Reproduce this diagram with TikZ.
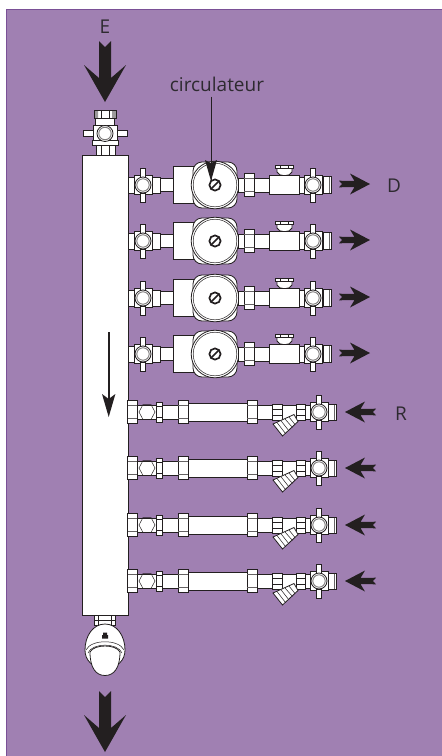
\documentclass[tikz,border=0pt]{standalone}
\usepackage{fontspec}
\setmainfont{Open Sans}
\definecolor{bgp}{HTML}{A080B2}
\definecolor{edgep}{HTML}{7A5096}
\definecolor{ink}{HTML}{231F20}
\definecolor{txt}{HTML}{2E2A30}
\tikzset{
  part/.style={draw=ink,fill=white,line width=0.8pt},
  thin part/.style={draw=ink,line width=0.5pt},
  shade part/.style={draw=ink!70,line width=1.3pt},
  solid arrow/.style={fill=ink,draw=none},
  label text/.style={text=txt,font=\fontsize{19}{22}\selectfont,inner sep=0pt},
  % a ball valve with a vertical lever, centred on its ball
  valve ball/.pic={
    \draw[part] (-2.3,-17) rectangle (2.3,17);
    \draw[part] (-9,-9.5) rectangle (9,9.5);
    \draw[part] (-2.3,-17) rectangle (2.3,-8);
    \draw[part] (-2.3,8) rectangle (2.3,17);
    \draw[draw=ink,fill=white,line width=0.8pt] (0,0) circle (8);
    \draw[draw=ink!60,fill=white,line width=0.9pt] (0,0) circle (6.2);
  },
  % a union nut: three stacked bands
  union nut/.pic={
    \draw[part] (-5,-11.5) rectangle (5,11.5);
    \draw[shade part] (-5,-6.5) -- (5,-6.5) (-5,6.5) -- (5,6.5);
  },
  % a flow arrow running to the right, tip at the origin
  arrow out/.pic={
    \fill[solid arrow] (0,0) -- (-20,-10.5) -- (-15.5,-3) -- (-31,-3.3) -- (-28,0) -- (-31,3.3) -- (-15.5,3) -- (-20,10.5) -- cycle;
  },
  % one pump branch, y measured from the branch axis, x absolute
  supply row/.pic={
    \draw[part] (128,-8) rectangle (135,8);
    \draw[part] (152,-8) rectangle (160,8);
    \draw[part] (160,-6.5) rectangle (173,6.5);
    \pic at (143,0) {valve ball};
    % pump
    \draw[part] (173,-19) rectangle (194,18);
    \draw[part,rounded corners=9pt] (193,-23) rectangle (237,23);
    \draw[part] (215,0) circle (23.8);
    \draw[thin part] (215,0) circle (21.8);
    \draw[draw=ink,line width=1.7pt,fill=white] (215,0) circle (5.6);
    \draw[draw=ink,line width=1.5pt] (211,4) -- (219,-4);
    % right of the pump
    \draw[part] (238,-7) rectangle (244,7);
    \draw[part] (244,-11.5) rectangle (254,11.5);
    \draw[shade part] (244,-6.5) -- (254,-6.5) (244,6.5) -- (254,6.5);
    \draw[part] (254,-7) rectangle (269,7);
    \draw[part] (277,-16.5) -- (277,-13) .. controls (279,-8) and (290,-8) .. (292,-13) -- (292,-16.5);
    \draw[part] (275,-20) rectangle (293,-16.5);
    \draw[thin part] (280,-20) -- (280,-16.5) (288,-20) -- (288,-16.5);
    \draw[part] (269,-10) rectangle (299,9);
    \draw[part] (299,-8) rectangle (304,8);
    \draw[part] (323,-8.5) rectangle (331,8.5);
    \draw[shade part] (329.5,-8) -- (329.5,8);
    \pic at (313,0) {valve ball};
    \pic at (370,-1) {arrow out};
  },
  % one return branch
  return row/.pic={
    \pic at (132.5,0) {union nut};
    \draw[part] (137,-7) rectangle (178,7);
    \draw[thin part] (139,0) -- (143,-7.5) -- (151,-7.5) -- (155,0) -- (151,7.5) -- (143,7.5) -- cycle;
    \draw[part] (156.5,-10) rectangle (162.5,10);
    \draw[thin part] (156.5,-5.5) -- (162.5,-5.5) (156.5,5.5) -- (162.5,5.5);
    \pic at (183,0) {union nut};
    \draw[part] (188,-9) rectangle (247,9);
    \pic at (252,0) {union nut};
    \draw[part] (257,-7) rectangle (310,7);
    \draw[part] (272,-8) rectangle (282,8);
    \draw[thin part] (272,-3) -- (282,-3) (272,3) -- (282,3);
    \draw[part] (296,-8) rectangle (305,8);
    \draw[thin part] (296,-3) -- (305,-3) (296,3) -- (305,3);
    % strainer
    \draw[part] (294,2.5) -- (273,12) -- (282.5,24) -- (298,9.5) -- cycle;
    \draw[thin part] (277,10.5) -- (285.5,21.5) (281,8.7) -- (289,19) (285,7) -- (292.5,15.5) (289,5) -- (295,12.5);
    \draw[part] (328,-8) rectangle (336,8);
    \draw[shade part] (334.5,-7.5) -- (334.5,7.5);
    \pic at (319,0) {valve ball};
    \pic[xscale=-1] at (345,0) {arrow out};
  },
  big arrow/.pic={
    \fill[solid arrow] (0,0) -- (-21,-37) -- (-6,-24) -- (-6,-61) -- (0,-55) -- (6,-61) -- (6,-24) -- (21,-37) -- cycle;
  }
}
\begin{document}
\begin{tikzpicture}[x=1pt,y=-1pt]
\useasboundingbox (0,0) rectangle (442,756);
\fill[white] (0,0) rectangle (442,756);
\fill[bgp] (6.5,9.5) rectangle (442,756);
\draw[edgep,line width=1.2pt] (6.5,756) -- (6.5,9.5) -- (442,9.5);

% inlet
\node[label text] (inletlabel) at (105,27) {E};
\pic at (105,102) {big arrow};
\draw[part,draw=ink!70,fill=white] (94,110) rectangle (116,118);
\fill[ink!45] (94,110) rectangle (98,118) (112,110) rectangle (116,118);
\draw[thin part] (101,110) -- (101,118) (109,110) -- (109,118) (94,110) rectangle (116,118);
\draw[part] (95.5,118) rectangle (114.5,126);
\draw[part] (96,143) rectangle (115,155);
\draw[thin part] (101,143) -- (101,155) (109,143) -- (109,155);
\draw[part] (83,130.5) rectangle (127,136.5);
\draw[part] (93,125) rectangle (117,141);
\draw[part] (92,140) rectangle (118,145);
\draw[part] (105,133.5) circle (8);
\draw[draw=ink!60,fill=white,line width=0.9pt] (105,133.5) circle (6.2);

% header
\node[part,minimum width=46pt,minimum height=460pt,inner sep=0pt,anchor=north west] (header) at (82,155) {};

% branches
\foreach \rowy in {185,241,298,354} {\pic at (0,\rowy) {supply row};}
\foreach \rowy in {412,468,525,581} {\pic at (0,\rowy) {return row};}

% labels
\node[label text] (supplylabel) at (394,186) {D};
\node[label text] (returnlabel) at (401,414) {R};
\node[label text] (pumplabel) at (217,84) {circulateur};
\coordinate (pumptip) at (211,181);
\coordinate (pumpbarbl) at (205,160);
\coordinate (pumpbarbr) at (217,160);
\draw[ink,line width=0.8pt] (pumplabel.south -| pumptip) ++(0,5) -- (pumptip);
\fill[ink] (pumptip) -- (pumpbarbl) -- (211,163) -- (pumpbarbr) -- cycle;

% flow direction in the header
\coordinate (flowstart) at (108.7,332);
\coordinate (flowtip) at (108.7,417);
\draw[ink,line width=2.2pt] (flowstart) -- (108.7,400);
\fill[ink] (flowtip) -- (102,394) -- (108.7,399) -- (115.4,394) -- cycle;

% outlet with thermostatic head
\draw[part] (94,615) rectangle (115,625);
\draw[thin part] (98,615) -- (98,625) (111,615) -- (111,625) (94,620) -- (115,620);
\draw[part] (105,624) .. controls (117,624) and (125,636) .. (125,650) .. controls (125,660) and (118,668) .. (105,668) .. controls (92,668) and (85,660) .. (85,650) .. controls (85,636) and (93,624) .. (105,624) -- cycle;
\draw[part] (90,652) .. controls (90,668) and (96,675.5) .. (105,675.5) .. controls (114,675.5) and (120,668) .. (120,652) .. controls (116,644) and (94,644) .. (90,652) -- cycle;
\draw[thin part] (86,650) .. controls (91,639) and (119,639) .. (124,650);
\draw[thin part] (88,653) .. controls (92,642.5) and (118,642.5) .. (122,653);
\fill[ink] (103,632.5) rectangle (107,635) (102,635) rectangle (108,638.5);
\pic at (105,752) {big arrow};
\end{tikzpicture}
\end{document}
